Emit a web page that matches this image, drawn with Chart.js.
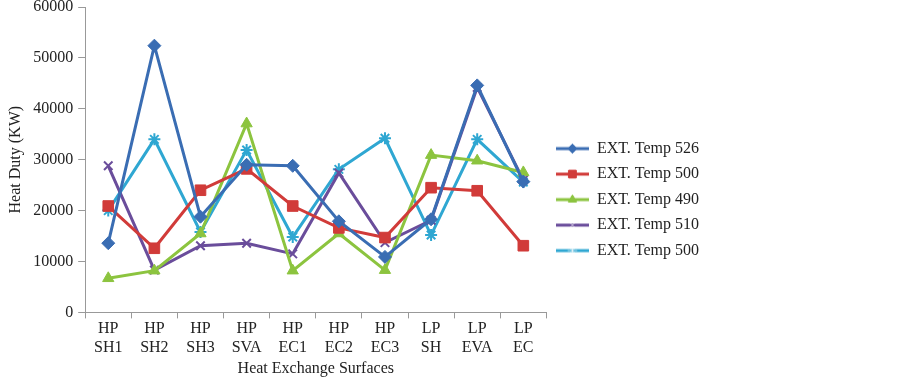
<!DOCTYPE html>
<html>
<head>
<meta charset="utf-8">
<script src="https://cdn.jsdelivr.net/npm/chart.js@4.4.1/dist/chart.umd.min.js"></script>
<style>
  html, body { margin: 0; padding: 0; background: #fff; }
  #wrap { width: 902px; height: 380px; }
</style>
</head>
<body>
<div id="wrap"><canvas id="myChart" width="902" height="380"></canvas></div>
<script>
const categorias = [
  ['HP', 'SH1'], ['HP', 'SH2'], ['HP', 'SH3'], ['HP', 'SVA'], ['HP', 'EC1'],
  ['HP', 'EC2'], ['HP', 'EC3'], ['LP', 'SH'], ['LP', 'EVA'], ['LP', 'EC']
];

const temp526 = [13600, 52400, 18800, 29000, 28800, 17900, 10900, 18300, 44600, 25700];
const temp500a = [20900, 12600, 24000, 28200, 20900, 16600, 14700, 24500, 23900, 13100];
const temp490 = [6700, 8200, 15500, 37100, 8200, 15500, 8300, 30900, 29800, 27500];
const temp510 = [28800, 8300, 13100, 13600, 11500, 27400, 13700, 18100, 44200, 26000];
const temp500b = [20000, 34000, 15800, 31900, 14800, 28100, 34200, 15200, 34000, 25600];

const nomes = ['EXT. Temp 526', 'EXT. Temp 500', 'EXT. Temp 490', 'EXT. Temp 510', 'EXT. Temp 500'];
const yTicks = [0, 10000, 20000, 30000, 40000, 50000, 60000];

const fonte = '"Liberation Serif", "Times New Roman", serif';

const series = [
  { dados: temp526, cor: '#3a6db3', estilo: 'rectRot', raio: 6.5, preenche: true },
  { dados: temp500a, cor: '#d13b39', estilo: 'rect', raio: 7.5, preenche: true },
  { dados: temp490, cor: '#8cc43f', estilo: 'triangle', raio: 6.5, preenche: true },
  { dados: temp510, cor: '#6a4d9b', estilo: 'crossRot', raio: 6, preenche: false },
  { dados: temp500b, cor: '#2fa7d2', estilo: 'star', raio: 6, preenche: false }
];

// icone da legenda: linha com marcador no meio
function iconeLegenda(s) {
  const c = document.createElement('canvas');
  c.width = 33; c.height = 14;
  const g = c.getContext('2d');
  g.strokeStyle = s.cor;
  g.fillStyle = s.cor;
  g.lineWidth = 3;
  g.beginPath(); g.moveTo(0, 7); g.lineTo(33, 7); g.stroke();
  g.lineWidth = 1;
  if (s.preenche) {
    Chart.helpers.drawPoint(g, { pointStyle: s.estilo, radius: s.raio * 0.7, borderWidth: 1, rotation: 0 }, 16.5, 7);
    g.fill();
    g.stroke();
  } else {
    g.strokeStyle = '#ffffff';
    g.globalAlpha = 0.6;
    Chart.helpers.drawPoint(g, { pointStyle: s.estilo, radius: s.raio * 0.8, borderWidth: 1, rotation: 0 }, 16.5, 7);
  }
  return c;
}

const ctx = document.getElementById('myChart').getContext('2d');
new Chart(ctx, {
  type: 'line',
  data: {
    labels: categorias,
    datasets: series.map((s, i) => ({
      label: nomes[i],
      data: s.dados,
      borderColor: s.cor,
      backgroundColor: s.cor,
      borderWidth: 3,
      pointStyle: s.estilo,
      pointRadius: s.raio,
      pointBorderWidth: s.preenche ? 1 : 2,
      pointBackgroundColor: s.cor,
      pointBorderColor: s.cor,
      tension: 0,
      fill: false
    }))
  },
  options: {
    responsive: false,
    animation: false,
    layout: { autoPadding: false, padding: { left: 3, right: 193, top: 0, bottom: 2 } },
    plugins: {
      tooltip: { enabled: false },
      legend: {
        position: 'right',
        title: { display: true, text: ' ', font: { size: 1 }, padding: 10 },
        labels: {
          usePointStyle: true,
          pointStyleWidth: 33,
          padding: 9.5,
          color: '#222',
          font: { family: fonte, size: 16 },
          generateLabels: chart => chart.data.datasets.map((d, i) => ({
            text: d.label,
            fontColor: '#222',
            pointStyle: iconeLegenda(series[i]),
            fillStyle: series[i].cor,
            strokeStyle: series[i].cor,
            lineWidth: 0,
            hidden: false,
            datasetIndex: i
          }))
        }
      }
    },
    scales: {
      x: {
        offset: true,
        grid: { display: true, offset: true, drawOnChartArea: false, tickLength: 6, color: '#999' },
        border: { color: '#999' },
        ticks: { color: '#222', font: { family: fonte, size: 16 }, maxRotation: 0, autoSkip: false, padding: 1 },
        title: { display: true, text: 'Heat Exchange Surfaces', color: '#222', font: { family: fonte, size: 16 }, padding: 0 }
      },
      y: {
        min: 0,
        max: 60000,
        afterBuildTicks: axis => { axis.ticks = yTicks.map(v => ({ value: v })); },
        grid: { display: true, drawOnChartArea: false, tickLength: 7, color: '#999' },
        border: { color: '#999' },
        ticks: {
          color: '#222',
          font: { family: fonte, size: 16, lineHeight: 0.25 },
          padding: 5,
          callback: v => String(v)
        },
        title: { display: true, text: 'Heat Duty (KW)', color: '#222', font: { family: fonte, size: 16 }, padding: 3 }
      }
    }
  }
});
</script>
</body>
</html>
